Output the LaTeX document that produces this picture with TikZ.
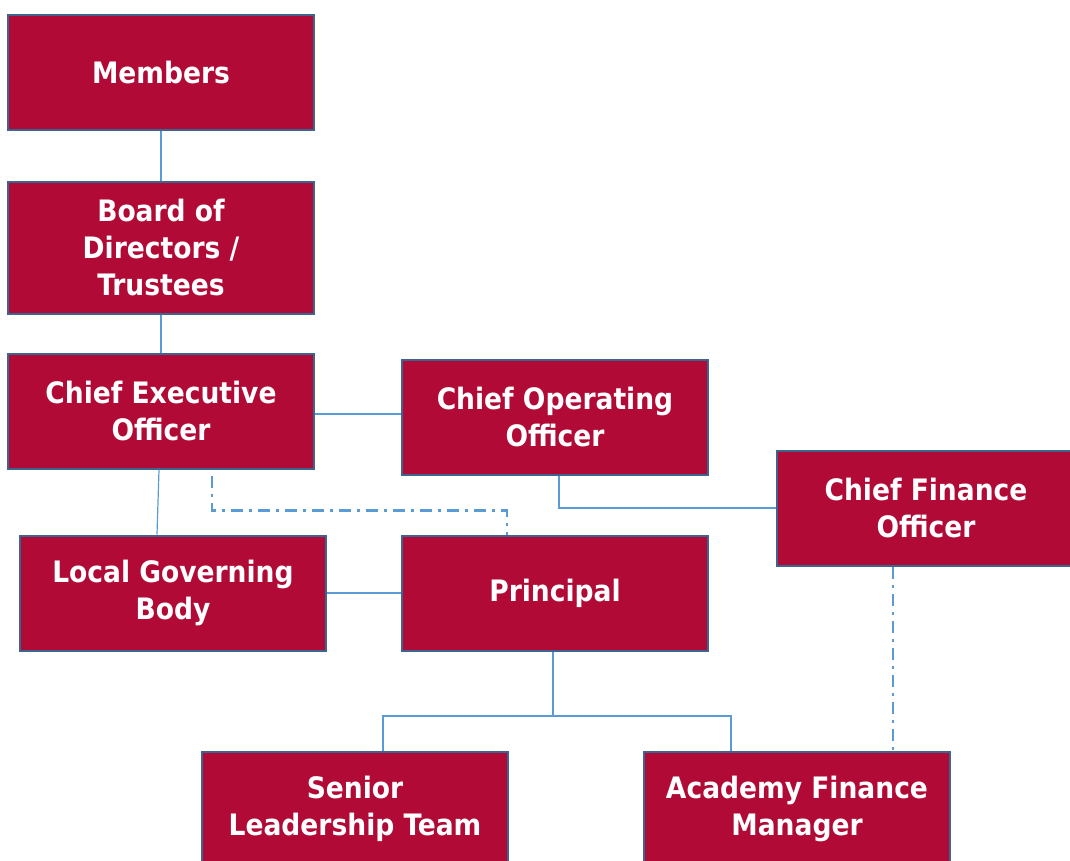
\documentclass[tikz,border=0pt]{standalone}
\usepackage{fontspec}
\setmainfont{DejaVu Sans Condensed}
\usepackage{tikz}
\definecolor{boxcol}{RGB}{177,10,54}
\definecolor{rimcol}{RGB}{60,100,140}
\definecolor{linkcol}{RGB}{91,155,213}
\tikzset{every picture/.style={x=1pt,y=-1pt}}
\tikzset{post/.style={rectangle,draw=rimcol,line width=2pt,fill=boxcol,text=white,minimum width=306pt,minimum height=115pt,align=center,font=\fontsize{29.5}{37}\selectfont\bfseries}}
\tikzset{link/.style={linkcol,line width=1.2pt}}
\tikzset{dotlink/.style={linkcol,line width=2.5pt,dash pattern=on 12pt off 6pt on 3pt off 6pt}}

\begin{document}
\begin{tikzpicture}
\useasboundingbox (0,0) rectangle (1070,861);
\node [post] (members) at (161,73) {Members};
\node [post,minimum height=132pt] (board) at (161,248) {Board of\\Directors /\\Trustees};
\node [post] (ceo) at (161,411) {Chief Executive\\Officer};
\node [post] (coo) at (555,417) {Chief Operating\\Officer};
\node [post,minimum width=298pt] (cfo) at (926,508) {Chief Finance\\Officer};
\node [post] (lgb) at (173,593) {Local Governing\\Body};
\node [post] (principal) at (555,593) {Principal};
\node [post] (slt) at (355,809) {Senior\\Leadership Team};
\node [post] (afm) at (797,809) {Academy Finance\\Manager};
\coordinate (fork) at (553,716);

\draw [link] (members) -- (board);
\draw [link] (board) -- (ceo);
\draw [link] (ceo.east |- 0,414) -- (coo.west |- 0,414);
\draw [link] ([xshift=-2pt]ceo.south) -- ([xshift=-16pt]lgb.north);
\draw [link] ([xshift=4pt]coo.south) |- (cfo.west);
\draw [link] (lgb) -- (principal);
\draw [link] ([xshift=-2pt]principal.south) -- (fork);
\draw [link] ([xshift=28pt]slt.north) |- (fork) -| ([xshift=-66pt]afm.north);

\draw [dotlink] ([xshift=51pt,yshift=-6pt]ceo.south) |- ([xshift=-48pt,yshift=24pt]principal.north) -- ([xshift=-48pt]principal.north);
\draw [dotlink] ([xshift=-33pt]cfo.south) -- ([xshift=-33pt]cfo.south |- afm.north);
\end{tikzpicture}
\end{document}
